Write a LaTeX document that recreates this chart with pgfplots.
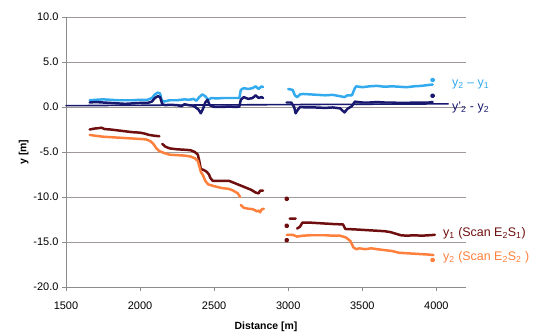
\documentclass[border=0pt]{standalone}
\usepackage{pgfplots}
\pgfplotsset{compat=1.18}
\usepackage{fontspec}
\setmainfont{Liberation Sans}
\definecolor{cblue}{RGB}{51,170,238}
\definecolor{cnavy}{RGB}{24,24,110}
\definecolor{cdred}{RGB}{110,14,14}
\definecolor{corange}{RGB}{255,128,60}
\definecolor{cgrid}{RGB}{160,152,152}
\definecolor{caxis}{RGB}{140,140,140}
\begin{document}
\begin{tikzpicture}
\begin{axis}[
  scale only axis, width=400bp, height=270bp,
  xmin=1500, xmax=4200, ymin=-20, ymax=10,
  axis x line*=bottom, axis y line*=left,
  axis line style={caxis, line width=0.8pt},
  xtick={1500,2000,2500,3000,3500,4000},
  xticklabels={1500,2000,2500,3000,3500,4000},
  ytick={-20,-15,-10,-5,0,5,10},
  yticklabels={-20.0,-15.0,-10.0,-5.0,0.0,5.0,10.0},
  ymajorgrids, grid style={cgrid, line width=0.8pt},
  tick style={caxis, line width=0.8pt},
  tick align=outside, major tick length=4bp,
  ticklabel style={font=\fontsize{11}{12}\selectfont},
  xticklabel style={yshift=-7bp},
  /pgf/number format/assume math mode=true,
  xlabel={\textbf{Distance [m]}},
  ylabel={\textbf{y [m]}},
  label style={font=\fontsize{10.5}{12}\selectfont},
  xlabel style={yshift=-6bp},
  ylabel style={yshift=-2bp},
  clip=false,
  unbounded coords=jump,
  every axis plot/.append style={line width=2.5pt, line join=round, line cap=round},
]
% zero reference line
\addplot[cnavy, line width=1.6pt] coordinates {(1500,0.15) (4080,0.35)};
% y2 - y1
\addplot[cblue] table[row sep=\\] {
x y\\
1660 0.75\\ 1700 0.8\\ 1750 0.85\\ 1800 0.8\\ 1850 0.75\\ 1900 0.75\\ 1950 0.75\\ 2000 0.8\\ 2050 0.8\\ 2080 1.0\\ 2100 1.4\\ 2120 1.6\\ 2135 1.5\\ 2145 0.8\\ 2160 0.6\\ 2200 0.75\\ 2250 0.75\\ 2300 0.85\\ 2330 0.8\\ 2360 0.9\\ 2380 0.7\\ 2400 1.1\\ 2420 1.4\\ 2440 1.2\\ 2460 0.8\\ 2480 1.0\\ 2520 0.95\\ 2560 1.0\\ 2600 1.0\\ 2640 1.0\\ 2670 1.0\\ 2680 1.9\\ 2700 2.1\\ 2730 2.0\\ 2760 2.1\\ 2780 2.3\\ 2800 2.0\\ 2820 2.3\\ 2830 2.2\\
nan nan\\
3000 2.0\\ 3030 1.9\\ 3045 1.3\\ 3060 1.1\\ 3080 1.4\\ 3100 1.45\\ 3150 1.4\\ 3200 1.35\\ 3250 1.3\\ 3300 1.35\\ 3350 1.2\\ 3380 1.1\\ 3400 1.3\\ 3430 1.3\\ 3450 2.1\\ 3460 2.3\\ 3500 2.2\\ 3550 2.3\\ 3600 2.35\\ 3650 2.25\\ 3700 2.3\\ 3750 2.25\\ 3800 2.2\\ 3850 2.3\\ 3900 2.35\\ 3950 2.45\\ 3975 2.5\\
};
\addplot[cblue, only marks, mark=*, mark size=1.3pt] coordinates {(3975,3.0)};
% y'2 - y2
\addplot[cnavy] table[row sep=\\] {
x y\\
1660 0.5\\ 1700 0.55\\ 1750 0.5\\ 1800 0.45\\ 1850 0.4\\ 1900 0.35\\ 1950 0.4\\ 2000 0.45\\ 2050 0.45\\ 2080 0.6\\ 2100 1.0\\ 2120 1.2\\ 2135 1.1\\ 2150 0.3\\ 2170 0.2\\ 2200 0.25\\ 2250 0.2\\ 2280 0.1\\ 2300 0.3\\ 2330 0.2\\ 2360 0.15\\ 2380 -0.1\\ 2395 -0.3\\ 2410 -0.7\\ 2425 -0.2\\ 2440 0.5\\ 2455 0.8\\ 2470 0.2\\ 2500 0.0\\ 2550 0.0\\ 2600 0.05\\ 2650 0.0\\ 2670 0.05\\ 2680 0.8\\ 2700 1.1\\ 2730 0.9\\ 2760 1.0\\ 2780 1.3\\ 2800 1.0\\ 2820 1.1\\ 2830 1.0\\
nan nan\\
2990 0.5\\ 3020 0.5\\ 3040 0.0\\ 3050 -0.7\\ 3065 -0.3\\ 3080 0.0\\ 3120 -0.05\\ 3180 -0.05\\ 3250 -0.1\\ 3300 -0.05\\ 3350 -0.15\\ 3380 -0.6\\ 3400 -0.2\\ 3430 0.1\\ 3450 0.6\\ 3470 0.55\\ 3500 0.5\\ 3550 0.5\\ 3600 0.55\\ 3650 0.5\\ 3700 0.5\\ 3750 0.45\\ 3800 0.45\\ 3850 0.5\\ 3900 0.5\\ 3950 0.5\\ 3975 0.55\\
};
\addplot[cnavy, only marks, mark=*, mark size=1.3pt] coordinates {(3975,1.25)};
% y1
\addplot[cdred] table[row sep=\\] {
x y\\
1660 -2.5\\ 1690 -2.4\\ 1720 -2.35\\ 1740 -2.3\\ 1760 -2.45\\ 1800 -2.5\\ 1850 -2.6\\ 1900 -2.7\\ 1950 -2.8\\ 2000 -2.85\\ 2030 -2.95\\ 2060 -3.1\\ 2100 -3.2\\ 2130 -3.25\\
nan nan\\
2150 -4.1\\ 2170 -4.4\\ 2200 -4.6\\ 2250 -4.7\\ 2300 -4.75\\ 2340 -4.8\\ 2370 -5.0\\ 2390 -5.3\\ 2400 -6.0\\ 2410 -6.9\\ 2430 -7.0\\ 2450 -7.2\\ 2465 -7.5\\ 2475 -7.9\\ 2490 -8.2\\ 2550 -8.2\\ 2600 -8.2\\ 2630 -8.4\\ 2660 -8.6\\ 2690 -8.8\\ 2720 -9.0\\ 2750 -9.2\\ 2780 -9.5\\ 2800 -9.6\\ 2810 -9.3\\ 2830 -9.3\\
nan nan\\
3010 -12.4\\ 3050 -12.4\\
nan nan\\
3060 -13.5\\ 3080 -13.3\\ 3095 -12.85\\ 3150 -12.85\\ 3200 -12.9\\ 3250 -12.95\\ 3300 -13.0\\ 3370 -13.05\\ 3385 -13.55\\ 3450 -13.6\\ 3500 -13.65\\ 3550 -13.7\\ 3600 -13.75\\ 3650 -13.8\\ 3690 -13.9\\ 3730 -14.1\\ 3760 -14.25\\ 3800 -14.3\\ 3850 -14.25\\ 3900 -14.3\\ 3950 -14.25\\ 3990 -14.2\\
};
\addplot[cdred, only marks, mark=*, mark size=1.3pt] coordinates {(2990,-10.2) (2990,-13.2) (2990,-14.8)};
% y2
\addplot[corange] table[row sep=\\] {
x y\\
1660 -3.1\\ 1700 -3.2\\ 1750 -3.3\\ 1800 -3.35\\ 1850 -3.4\\ 1900 -3.45\\ 1950 -3.5\\ 2000 -3.55\\ 2040 -3.6\\ 2070 -3.8\\ 2090 -4.1\\ 2110 -4.6\\ 2130 -4.9\\ 2160 -5.1\\ 2200 -5.3\\ 2250 -5.35\\ 2300 -5.4\\ 2340 -5.5\\ 2370 -5.7\\ 2390 -6.0\\ 2400 -6.6\\ 2410 -7.2\\ 2425 -7.6\\ 2440 -8.2\\ 2460 -8.6\\ 2500 -8.8\\ 2550 -9.0\\ 2600 -9.1\\ 2630 -9.3\\ 2660 -9.6\\ 2675 -10.0\\
nan nan\\
2680 -10.9\\ 2700 -11.2\\ 2730 -11.3\\ 2760 -11.35\\ 2790 -11.6\\ 2800 -11.5\\ 2810 -11.7\\ 2820 -11.4\\ 2835 -11.3\\
nan nan\\
2990 -14.2\\ 3030 -14.2\\ 3060 -14.4\\ 3100 -14.3\\ 3150 -14.25\\ 3200 -14.25\\ 3250 -14.25\\ 3300 -14.3\\ 3350 -14.3\\ 3390 -14.5\\ 3420 -14.9\\ 3440 -15.6\\ 3460 -15.8\\ 3480 -15.7\\ 3520 -15.8\\ 3560 -15.7\\ 3600 -15.8\\ 3650 -15.9\\ 3700 -16.0\\ 3750 -16.2\\ 3800 -16.25\\ 3850 -16.3\\ 3900 -16.35\\ 3950 -16.4\\ 3980 -16.45\\
};
\addplot[corange, only marks, mark=*, mark size=1.3pt] coordinates {(3975,-17.0)};
% labels
\node[anchor=west, text=cblue, font=\fontsize{12.5}{14}\selectfont, inner sep=0pt] at (axis cs:4105,2.45) {y\textsubscript{2} -- y\textsubscript{1}};
\node[anchor=west, text=cnavy, font=\fontsize{12.5}{14}\selectfont, inner sep=0pt] at (axis cs:4105,-0.05) {y'\textsubscript{2} - y\textsubscript{2}};
\node[anchor=west, text=cdred, font=\fontsize{12.5}{14}\selectfont, inner sep=0pt] at (axis cs:4045,-14.0) {y\textsubscript{1} (Scan E\textsubscript{2}S\textsubscript{1})};
\node[anchor=west, text=corange, font=\fontsize{12.5}{14}\selectfont, inner sep=0pt] at (axis cs:4045,-16.7) {y\textsubscript{2} (Scan E\textsubscript{2}S\textsubscript{2} )};
\end{axis}
\path[use as bounding box] (-66bp,-44bp) rectangle (469bp,287bp);
\end{tikzpicture}
\end{document}
